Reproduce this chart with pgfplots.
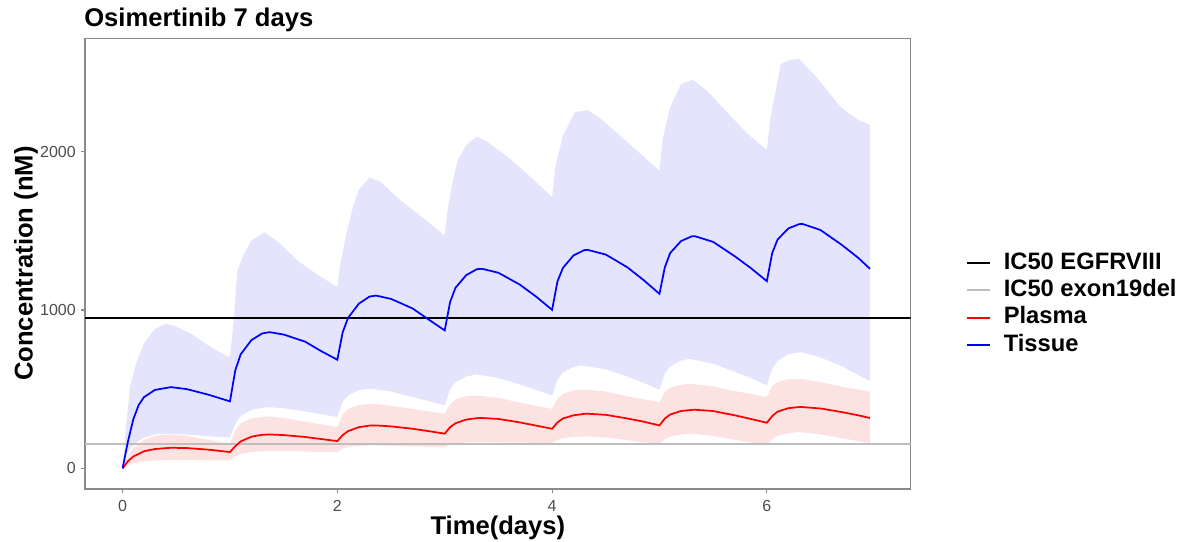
\documentclass[border=0pt]{standalone}
\usepackage{pgfplots}
\pgfplotsset{compat=1.18}
\usepackage{pgfplotstable}
\usepgfplotslibrary{fillbetween}
\usepackage{fontspec}
\setmainfont{Liberation Sans}
\definecolor{bandblue}{RGB}{228,228,252}
\definecolor{bandred}{RGB}{253,226,226}
\definecolor{frame}{RGB}{138,138,138}
\definecolor{ticktext}{RGB}{77,77,77}
\definecolor{ic50grey}{RGB}{190,190,190}

% Tissue median
\pgfplotstableread{
t v
0 0
0.05 170
0.1 310
0.15 400
0.2 450
0.3 495
0.45 513
0.6 500
0.8 465
1.0 423
1.05 620
1.1 720
1.2 810
1.3 852
1.37 860
1.5 845
1.7 800
1.85 740
2.0 686
2.05 860
2.1 950
2.2 1040
2.3 1085
2.36 1091
2.5 1070
2.7 1010
2.85 940
3.0 871
3.05 1050
3.1 1140
3.2 1220
3.3 1258
3.35 1260
3.5 1235
3.7 1160
3.85 1085
4.0 1001
4.05 1180
4.1 1265
4.2 1345
4.3 1378
4.33 1380
4.5 1350
4.7 1270
4.85 1190
5.0 1102
5.05 1270
5.1 1360
5.2 1435
5.3 1465
5.33 1466
5.5 1430
5.7 1340
5.85 1265
6.0 1182
6.05 1360
6.1 1445
6.2 1515
6.3 1542
6.33 1544
6.5 1505
6.7 1410
6.85 1330
6.96 1260
}\tissue

% Plasma median
\pgfplotstableread{
t v
0 0
0.05 45
0.1 75
0.2 108
0.3 122
0.45 130
0.6 128
0.8 118
1.0 103
1.05 140
1.1 170
1.2 200
1.3 212
1.37 214
1.5 210
1.7 198
1.85 185
2.0 172
2.05 210
2.1 235
2.2 260
2.3 270
2.36 271
2.5 265
2.7 250
2.85 235
3.0 219
3.05 260
3.1 285
3.2 308
3.3 317
3.35 318
3.5 312
3.7 290
3.85 270
4.0 250
4.05 290
4.1 315
4.2 335
4.3 344
4.33 345
4.5 338
4.7 315
4.85 295
5.0 271
5.05 315
5.1 340
5.2 362
5.3 369
5.33 370
5.5 362
5.7 335
5.85 312
6.0 288
6.05 330
6.1 358
6.2 380
6.3 387
6.33 387
6.5 378
6.7 355
6.85 335
6.96 318
}\plasma

% Tissue upper band
\pgfplotstableread{
t v
0 0
0.03 250
0.07 520
0.12 650
0.2 790
0.3 880
0.4 913
0.5 895
0.65 845
0.8 775
0.9 735
1.0 698
1.03 900
1.07 1249
1.12 1340
1.2 1440
1.32 1491
1.45 1430
1.63 1312
1.8 1230
2.0 1144
2.03 1300
2.09 1502
2.15 1660
2.2 1760
2.3 1838
2.4 1810
2.59 1691
2.8 1580
3.0 1470
3.03 1650
3.08 1830
3.12 1943
3.2 2040
3.3 2095
3.4 2060
3.6 1960
3.8 1840
4.0 1712
4.03 1900
4.1 2100
4.21 2248
4.33 2263
4.45 2210
4.58 2132
4.8 2000
5.0 1880
5.03 2080
5.1 2280
5.2 2427
5.31 2454
5.45 2380
5.6 2270
5.82 2112
6.0 2011
6.03 2200
6.13 2553
6.22 2580
6.3 2585
6.45 2480
6.69 2280
6.85 2200
6.96 2168
}\tissueup

% Tissue lower band
\pgfplotstableread{
t v
0 0
0.05 100
0.1 150
0.2 195
0.3 215
0.45 218
0.6 213
0.8 203
1.0 194
1.05 280
1.1 330
1.2 370
1.35 387
1.5 380
1.7 360
1.85 342
2.0 324
2.05 420
2.1 460
2.2 495
2.31 503
2.5 485
2.7 450
2.85 425
3.0 397
3.05 500
3.1 545
3.2 580
3.3 593
3.5 570
3.7 530
3.85 495
4.0 460
4.05 560
4.1 605
4.2 640
4.27 650
4.5 625
4.7 580
4.85 540
5.0 497
5.05 600
5.1 645
5.2 680
5.28 692
5.5 660
5.7 610
5.85 570
6.0 524
6.05 630
6.1 680
6.2 720
6.32 734
6.5 700
6.7 645
6.85 590
6.96 551
}\tissuelo

% Plasma upper band
\pgfplotstableread{
t v
0 0
0.05 80
0.1 130
0.2 180
0.3 205
0.45 214
0.6 205
0.8 180
1.0 156
1.05 240
1.1 285
1.2 315
1.35 328
1.5 318
1.7 295
1.85 278
2.0 261
2.05 340
2.1 375
2.2 400
2.33 408
2.5 395
2.7 375
2.85 360
3.0 345
3.05 405
3.1 435
3.2 455
3.3 460
3.5 445
3.7 415
3.85 395
4.0 376
4.05 440
4.1 470
4.2 492
4.31 498
4.5 485
4.7 455
4.85 437
5.0 418
5.05 485
5.1 510
5.2 528
5.28 534
5.5 518
5.7 488
5.85 470
6.0 450
6.05 520
6.1 545
6.2 562
6.3 566
6.5 545
6.7 515
6.85 498
6.96 486
}\plasmaup

% Plasma lower band
\pgfplotstableread{
t v
0 0
0.05 20
0.1 32
0.2 45
0.3 50
0.45 52
0.6 52
0.8 51
1.0 50
1.05 75
1.1 90
1.2 103
1.35 109
1.5 108
1.7 106
1.85 104
2.0 103
2.05 125
2.1 135
2.2 142
2.31 145
2.5 142
2.7 138
2.85 136
3.0 134
3.05 150
3.1 158
3.2 164
3.3 166
3.5 164
3.7 162
3.85 161
4.0 160
4.05 180
4.1 190
4.2 198
4.31 202
4.5 195
4.7 178
4.85 165
5.0 156
5.05 185
5.1 200
5.2 213
5.28 219
5.5 205
5.7 180
5.85 163
6.0 150
6.05 185
6.1 205
6.2 222
6.3 229
6.5 215
6.7 190
6.85 172
6.96 160
}\plasmalo

\begin{document}
\begin{tikzpicture}
\begin{axis}[
  at={(0,0)}, anchor=south west,
  scale only axis,
  width=619.3pt, height=338pt,
  xmin=-0.35, xmax=7.34,
  ymin=-130, ymax=2716,
  axis line style={draw=frame, line width=0.9pt},
  tick align=outside,
  xtick pos=left, ytick pos=left,
  major tick length=3pt,
  tick style={draw=frame, line width=0.8pt},
  xtick={0,2,4,6},
  ytick={0,1000,2000},
  /pgf/number format/assume math mode=true,
  /pgf/number format/1000 sep={},
  tick label style={font=\fontsize{12}{14}\selectfont, text=ticktext},
  xticklabel style={inner sep=0pt, anchor=north, yshift=-5.25pt},
  yticklabel style={inner sep=0pt, anchor=east, xshift=-3.75pt},
  every axis title shift=0pt,
  title={Osimertinib 7 days},
  title style={at={(axis description cs:0,1)}, anchor=base west, xshift=-0.75pt, yshift=8.7pt, font=\fontsize{19.2}{23}\selectfont\bfseries, inner sep=0pt},
  xlabel={Time(days)},
  xlabel style={at={(axis description cs:0.5,0)}, anchor=base, yshift=-34.5pt, font=\fontsize{19.2}{23}\selectfont\bfseries, inner sep=0pt},
  ylabel={Concentration (nM)},
  ylabel style={at={(axis description cs:-0.0715,0.5)}, anchor=center, rotate=0, font=\fontsize{19.2}{23}\selectfont\bfseries, inner sep=0pt},
  legend style={at={(axis description cs:1,0.41)}, anchor=west, xshift=38.5pt, draw=none, fill=none,
    font=\fontsize{17.8}{20}\selectfont\bfseries, row sep=4.5pt,
    nodes={inner sep=0pt, text height=12.4pt, text depth=3.6pt},
    /tikz/every odd column/.append style={column sep=9.5pt}},
  legend cell align=left,
  clip=true,
]
\addplot[draw=none, name path=tu, forget plot] table[x=t, y=v] {\tissueup};
\addplot[draw=none, name path=tl, forget plot] table[x=t, y=v] {\tissuelo};
\addplot[fill=bandblue, draw=none, forget plot] fill between[of=tu and tl];
\addplot[draw=none, name path=pu, forget plot] table[x=t, y=v] {\plasmaup};
\addplot[draw=none, name path=pl, forget plot] table[x=t, y=v] {\plasmalo};
\addplot[fill=bandred, draw=none, forget plot] fill between[of=pu and pl];

\addplot[black, line width=1.3pt, forget plot] coordinates {(-0.35,948) (7.34,948)};
\addplot[ic50grey, line width=1.3pt, forget plot] coordinates {(-0.35,156) (7.34,156)};
\addplot[red, line width=1.3pt, forget plot] table[x=t, y=v] {\plasma};
\addplot[blue, line width=1.3pt, forget plot] table[x=t, y=v] {\tissue};

\addlegendimage{line legend, black, line width=1.5pt}
\addlegendentry{IC50 EGFRVIII}
\addlegendimage{line legend, ic50grey, line width=1.5pt}
\addlegendentry{IC50 exon19del}
\addlegendimage{line legend, red, line width=1.5pt}
\addlegendentry{Plasma}
\addlegendimage{line legend, blue, line width=1.5pt}
\addlegendentry{Tissue}
\end{axis}
\pgfresetboundingbox
\path[use as bounding box] (-63.75pt,-39.75pt) rectangle (828pt,366.7pt);
\end{tikzpicture}
\end{document}
